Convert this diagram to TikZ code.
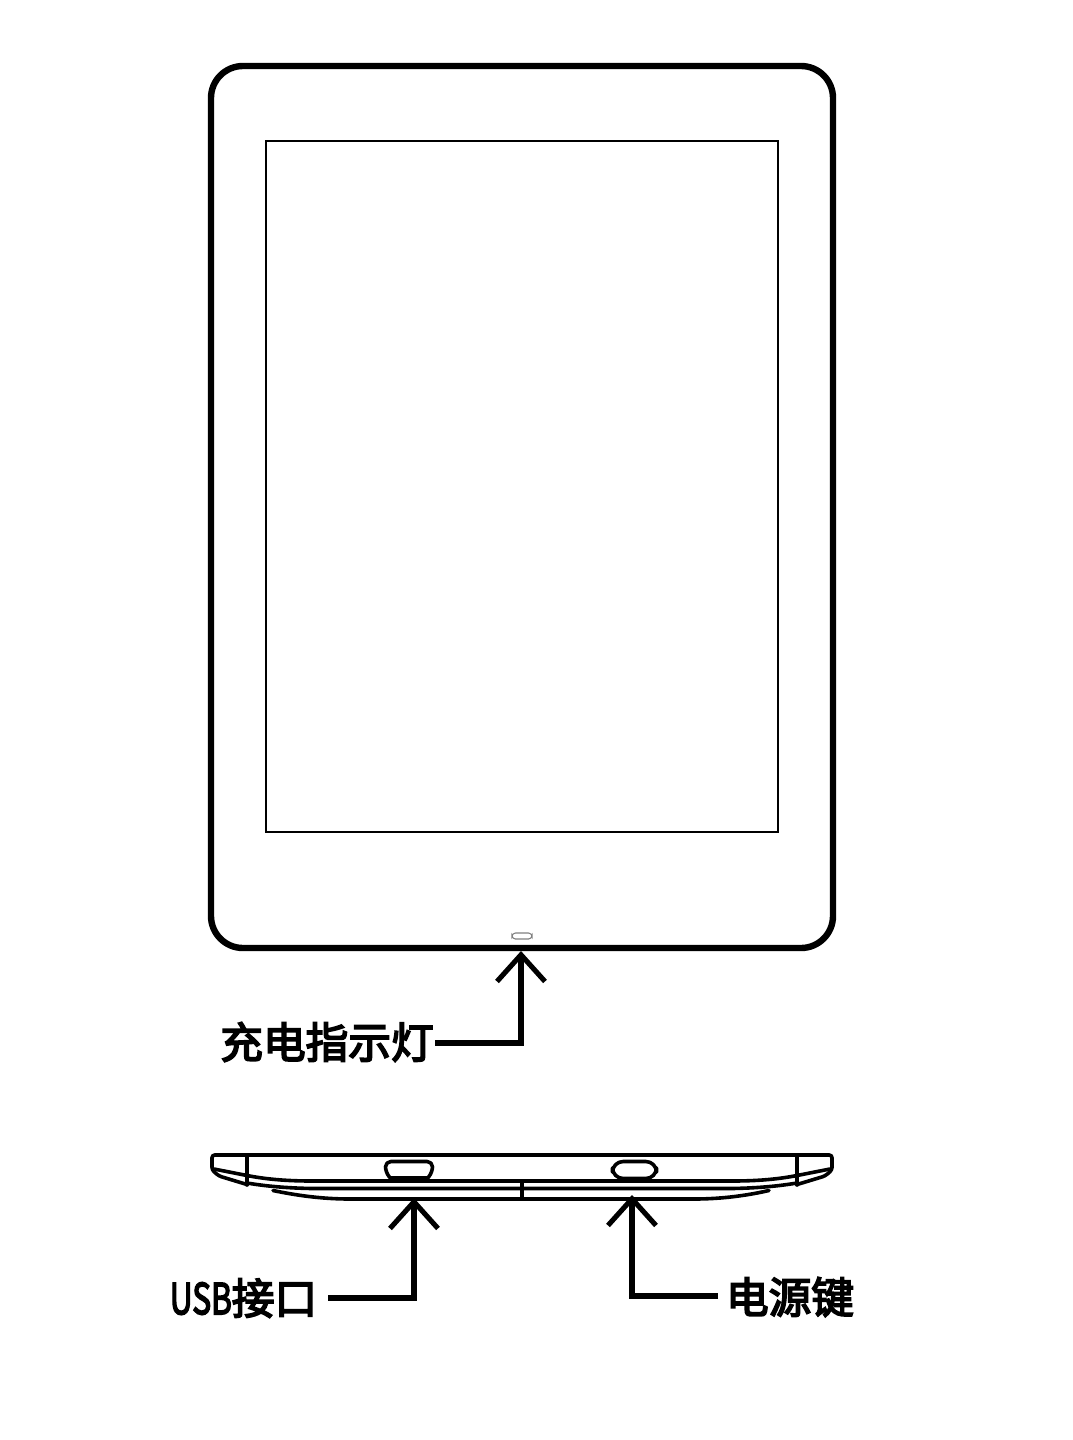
\documentclass[tikz,border=0pt]{standalone}
\usepackage{fontspec}
\newfontfamily\cjk[FakeBold=4]{Noto Sans CJK SC}
\usetikzlibrary{arrows.meta}
\tikzset{
  bodyline/.style={line width=4.8pt,rounded corners=24pt},
  screenline/.style={line width=2.2pt},
  sideline/.style={line width=2.7pt,line cap=round,line join=round},
  callout/.style={line width=4.5pt,-{Straight Barb[length=20pt,width=36pt,line width=3.8pt]}},
  partlabel/.style={font=\cjk\fontsize{32}{32}\selectfont,inner sep=0pt}
}
\begin{document}
\begin{tikzpicture}[x=0.75pt,y=-0.75pt]
\useasboundingbox (0,0) rectangle (1072,1440);
\fill[white] (0,0) rectangle (1072,1440);
\draw[bodyline] (211,66) rectangle (833,948); % body
\draw[screenline] (266,141) rectangle (778,832); % screen
\draw[line width=0.8pt,gray,rounded corners=2.6pt] (512,933) rectangle (532,939); % lamp
% side view
\draw[sideline,rounded corners=2pt] (247,1155) -- (212,1155) -- (212,1170) -- (219,1176) -- (247,1184.5) ; % left cap
\draw[sideline,rounded corners=2pt] (797,1155) -- (832,1155) -- (832,1170) -- (825,1176) -- (797,1184.5) ; % right cap
\draw[sideline] (247,1155) -- (797,1155) ; % top edge
\draw[sideline] (247,1155) -- (247,1185) ; % left cap
\draw[sideline] (797,1155) -- (797,1185) ; % right cap
\draw[sideline] (214,1169) -- (247,1175.5) .. controls (265,1179) and (285,1181) .. (312,1181) -- (732,1181) .. controls (759,1181) and (779,1179) .. (797,1175.5) -- (830,1169) ; % upper seam
\draw[sideline] (247,1183) .. controls (265,1186) and (285,1188) .. (312,1188.5) -- (732,1188.5) .. controls (759,1188) and (779,1186) .. (797,1183) ; % lower seam
\draw[sideline] (273,1190.5) .. controls (295,1195) and (320,1199) .. (350,1199) -- (694,1199) .. controls (724,1199) and (749,1195) .. (769,1190.5) ; % back
\draw[sideline] (522,1181) -- (522,1199) ; % joint
\draw[sideline,rounded corners=4pt] (391,1179) -- (385.5,1172) -- (385.5,1161.5) -- (432.5,1161.5) -- (432.5,1172) -- (427,1179) ; % usb port
\draw[line width=4pt] (391,1178.5) -- (427,1178.5) ; % usb port
\draw[sideline,rounded corners=8pt] (612.5,1161.5) rectangle (656.5,1178.5) ; % power key
% labels
\node[partlabel] (chargelabel) at (327,1042) {充电指示灯};
\node[partlabel] (usblabel) at (243.5,1298) {\scalebox{0.74}[1]{USB}接口};
\node[partlabel] (powerlabel) at (790,1297) {电源键};
\coordinate (chargetip) at (521,951);
\coordinate (usbtip) at (414,1198);
\coordinate (powertip) at (632,1195);
\coordinate (chargestart) at (435,1043);
\coordinate (usbstart) at (328,1298);
\coordinate (powerstart) at (718,1296);
\draw[callout] (chargestart) -| (chargetip) ; % lamp
\draw[callout] (usbstart) -| (usbtip) ; % usb
\draw[callout] (powerstart) -| (powertip) ; % power
\end{tikzpicture}
\end{document}
